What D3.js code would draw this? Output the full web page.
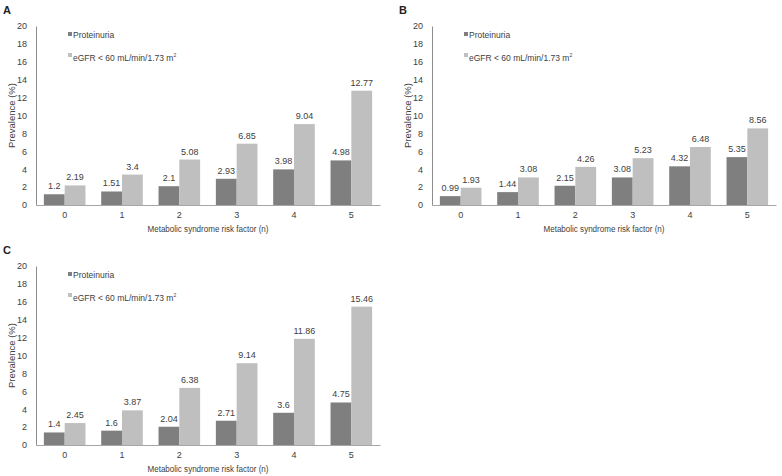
<!DOCTYPE html>
<html><head><meta charset="utf-8">
<script src="https://cdn.jsdelivr.net/npm/d3@7"></script>
<style>body{margin:0;background:#fff}svg{display:block}</style>
</head><body>
<svg id="c" width="782" height="476"></svg>
<script>
const categories = ["0","1","2","3","4","5"];
const yTicks = [0,2,4,6,8,10,12,14,16,18,20];
const seriesNames = ["Proteinuria","eGFR < 60 mL/min/1.73 m\u00B2"];
const proteinuriaA = [1.2,1.51,2.1,2.93,3.98,4.98];
const egfrA = [2.19,3.4,5.08,6.85,9.04,12.77];
const proteinuriaB = [0.99,1.44,2.15,3.08,4.32,5.35];
const egfrB = [1.93,3.08,4.26,5.23,6.48,8.56];
const proteinuriaC = [1.4,1.6,2.04,2.71,3.6,4.75];
const egfrC = [2.45,3.87,6.38,9.14,11.86,15.46];
const panelLabels = ["A","B","C"];

const svg = d3.select("#c");
const font = "'Liberation Sans', Arial, sans-serif";
const colors = ["#7f7f7f","#bfbfbf"];
const textCol = "#404040";
const fs = 9;

function panel(ox, oy, label, s1, s2) {
  const g = svg.append("g").attr("transform", `translate(${ox},${oy})`);
  const x0 = 36, x1 = 380, yTop = 26, yBot = 205;
  const x = d3.scaleBand().domain(categories).range([x0, x1]);
  const y = d3.scaleLinear().domain([0,20]).range([yBot, yTop]);
  const bw = 20.8;

  g.append("text").attr("x", 3).attr("y", 14).text(label)
    .attr("font-family", font).attr("font-weight","bold").attr("font-size", 11).attr("fill","#222");

  const ya = g.append("g").attr("transform", `translate(${x0},0)`)
    .call(d3.axisLeft(y).tickValues(yTicks).tickSize(0).tickPadding(9));
  ya.select(".domain").attr("stroke","#8c8c8c");
  ya.selectAll("text").attr("font-family", font).attr("font-size", fs).attr("fill", textCol);

  const data = categories.map((c,i)=>({c, v:[s1[i], s2[i]]}));
  data.forEach(d => {
    d.v.forEach((v,j) => {
      const cx = x(d.c) + x.bandwidth()/2;
      const bx = cx - bw + j*bw;
      g.append("rect").attr("x", bx).attr("y", y(v)).attr("width", bw).attr("height", y(0)-y(v))
        .attr("fill", colors[j]);
      g.append("text").attr("x", bx + bw/2).attr("y", y(v) - 5).attr("text-anchor","middle")
        .attr("font-family", font).attr("font-size", fs).attr("fill", textCol).text(v);
    });
  });

  const xa = g.append("g").attr("transform", `translate(0,${yBot})`)
    .call(d3.axisBottom(x).tickSize(0).tickPadding(7));
  xa.select(".domain").attr("stroke","#a6a6a6");
  xa.selectAll("text").attr("font-family", font).attr("font-size", fs).attr("fill", textCol);

  g.append("text").attr("x", (x0+x1)/2).attr("y", 232).attr("text-anchor","middle")
    .attr("font-family", font).attr("font-size", 9.2).attr("fill", textCol)
    .attr("textLength", 121).attr("lengthAdjust","spacingAndGlyphs")
    .text("Metabolic syndrome risk factor (n)");
  g.append("text").attr("transform", `translate(15,${(yTop+yBot)/2}) rotate(-90)`).attr("text-anchor","middle")
    .attr("font-family", font).attr("font-size", 9.5).attr("fill", textCol).text("Prevalence (%)");

  g.append("rect").attr("x", 68).attr("y", 32).attr("width", 4).attr("height", 4).attr("fill", colors[0]);
  g.append("text").attr("x", 73).attr("y", 37.5).attr("font-family", font).attr("font-size", 8.5)
    .attr("fill", textCol).text(seriesNames[0]);
  g.append("rect").attr("x", 68).attr("y", 53).attr("width", 4).attr("height", 4).attr("fill", colors[1]);
  const t = g.append("text").attr("x", 73).attr("y", 61).attr("font-family", font).attr("font-size", 8.5)
    .attr("fill", textCol);
  t.append("tspan").text("eGFR < 60 mL/min/1.73 m");
  t.append("tspan").attr("font-size", 5).attr("dy", -4).text("2");
}

panel(0, 0, panelLabels[0], proteinuriaA, egfrA);
panel(396, 0, panelLabels[1], proteinuriaB, egfrB);
panel(0, 240, panelLabels[2], proteinuriaC, egfrC);
</script>
</body></html>
